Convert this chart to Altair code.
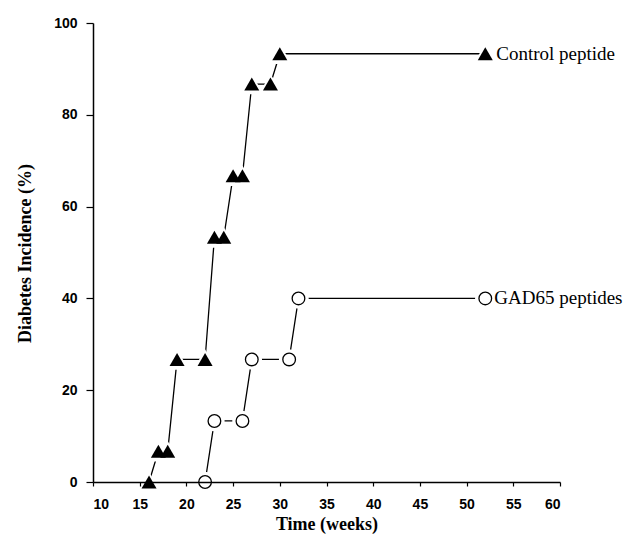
import altair as alt
import pandas as pd

ctrl_x = [16, 17, 18, 19, 22, 23, 24, 25, 26, 27, 29, 30, 52]
ctrl_y = [0, 6.7, 6.7, 26.7, 26.7, 53.3, 53.3, 66.7, 66.7, 86.7, 86.7, 93.3, 93.3]
gad_x = [22, 23, 26, 27, 31, 32, 52]
gad_y = [0, 13.3, 13.3, 26.7, 26.7, 40, 40]
series_names = ["Control peptide", "GAD65 peptides"]
x_ticks = [10, 15, 20, 25, 30, 35, 40, 45, 50, 55, 60]
y_ticks = [0, 20, 40, 60, 80, 100]

ctrl = pd.DataFrame({"t": ctrl_x, "v": ctrl_y, "s": series_names[0]})
gad = pd.DataFrame({"t": gad_x, "v": gad_y, "s": series_names[1]})
ctrl_last = ctrl.tail(1)
gad_last = gad.tail(1)
both = pd.concat([ctrl, gad])

xs = alt.Scale(domain=[10, 60], nice=False, zero=False)
ys = alt.Scale(domain=[0, 100], nice=False)

x_axis = alt.Axis(
    values=x_ticks, title="Time (weeks)", grid=False,
    domainColor="black", domainWidth=1.5, tickColor="black", tickSize=4, tickWidth=1.2,
    labelFont="Liberation Sans", labelFontSize=14, labelFontWeight="bold", labelColor="black",
    labelPadding=11,
    titleFont="Liberation Serif", titleFontSize=18, titleFontWeight="bold", titleColor="black",
    titleY=47, titleBaseline="alphabetic", zindex=1,
)
y_axis = alt.Axis(
    values=y_ticks, title="Diabetes Incidence (%)", grid=False,
    domainColor="black", domainWidth=1.5, tickColor="black", tickSize=7, tickWidth=1.2,
    labelFont="Liberation Sans", labelFontSize=14, labelFontWeight="bold", labelColor="black",
    labelPadding=9,
    titleFont="Liberation Serif", titleFontSize=18, titleFontWeight="bold", titleColor="black",
    titleX=-68, titleY=230, titleAngle=-90, titleBaseline="middle", titleAlign="center", zindex=1,
)

base = alt.Chart(both)
X = alt.X("t:Q", scale=xs, axis=x_axis)
Y = alt.Y("v:Q", scale=ys, axis=y_axis)

lines = base.mark_line(color="black", strokeWidth=1.3).encode(x=X, y=Y, detail="s:N")

halo_tri = alt.Chart(ctrl).mark_point(shape="triangle-up", filled=True, color="white", size=560, opacity=1).encode(
    x=alt.X("t:Q", scale=xs), y=alt.Y("v:Q", scale=ys))
halo_circ = alt.Chart(gad).mark_point(shape="circle", filled=True, color="white", size=420, opacity=1).encode(
    x=alt.X("t:Q", scale=xs), y=alt.Y("v:Q", scale=ys))

tri = alt.Chart(ctrl).mark_point(shape="triangle-up", filled=True, color="black", size=225, opacity=1).encode(
    x=alt.X("t:Q", scale=xs), y=alt.Y("v:Q", scale=ys))
circ = alt.Chart(gad).mark_point(shape="circle", filled=True, fill="white", stroke="black",
                                 strokeWidth=1.3, size=160, opacity=1).encode(
    x=alt.X("t:Q", scale=xs), y=alt.Y("v:Q", scale=ys))

lab_ctrl = alt.Chart(ctrl_last).mark_text(align="left", baseline="middle", dx=11, dy=0,
                                          font="Liberation Serif", fontSize=19, color="black").encode(
    x=alt.X("t:Q", scale=xs), y=alt.Y("v:Q", scale=ys), text="s:N")
lab_gad = alt.Chart(gad_last).mark_text(align="left", baseline="middle", dx=9, dy=0,
                                        font="Liberation Serif", fontSize=19, color="black").encode(
    x=alt.X("t:Q", scale=xs), y=alt.Y("v:Q", scale=ys), text="s:N")

chart = alt.layer(lines, halo_tri, halo_circ, tri, circ, lab_ctrl, lab_gad).properties(
    width=467, height=459,
    background="white",
    autosize=alt.AutoSizeParams(type="none"),
    padding={"left": 85, "top": 15, "right": 69, "bottom": 58},
).configure_view(strokeWidth=0, stroke=None)

chart.save("out.html", embed_options={"renderer": "svg", "actions": False})
